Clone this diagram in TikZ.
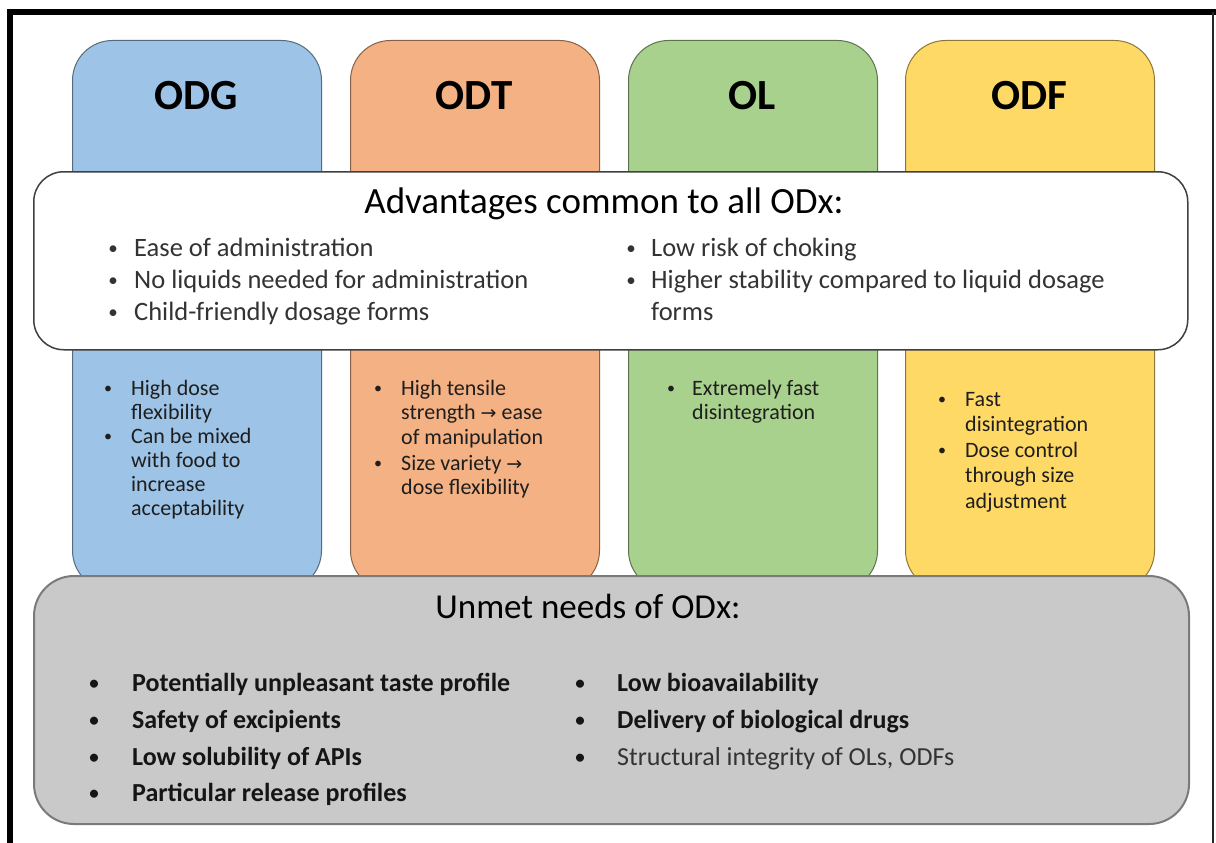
\documentclass[tikz,border=0pt]{standalone}
\usepackage{fontspec}
\setmainfont{Carlito}
\newfontfamily\arrowfont{DejaVu Sans}
\definecolor{odgblue}{HTML}{9DC3E6}
\definecolor{odtorange}{HTML}{F4B183}
\definecolor{olgreen}{HTML}{A9D18E}
\definecolor{odfyellow}{HTML}{FFD966}
\definecolor{needfill}{HTML}{C9C9C9}
\definecolor{needline}{HTML}{7A7A7A}
\definecolor{panelline}{HTML}{404040}
\definecolor{advtext}{HTML}{333333}
\definecolor{feattext}{HTML}{1E1E1E}
\definecolor{needtext}{HTML}{151515}
\definecolor{weaktext}{HTML}{333333}
\newcommand{\rarr}{{\arrowfont\fontsize{19}{22}\selectfont →}}
\begin{document}
\begin{tikzpicture}[x=1pt,y=-1pt,
  formbox/.style={draw=#1!55!black, fill=#1, line width=1pt, rounded corners=40pt,
    minimum width=249pt, minimum height=550pt, anchor=north west, inner sep=0pt},
  formname/.style={font=\fontsize{43}{46}\selectfont\bfseries, text=black, inner sep=0pt},
  panel/.style={rounded corners=#1, anchor=north west, minimum width=1154pt, inner sep=0pt},
  heading/.style={font=\fontsize{35}{40}\selectfont, text=black, anchor=base, inner sep=0pt},
  adv/.style={font=\fontsize{26.5}{30}\selectfont, text=advtext, anchor=base west, inner sep=0pt},
  advdot/.style={font=\fontsize{19}{22}\selectfont, text=advtext, anchor=base, inner sep=0pt, yshift=2pt},
  need/.style={font=\fontsize{26}{30}\selectfont\bfseries, text=needtext, anchor=base west, inner sep=0pt},
  needdot/.style={font=\fontsize{19}{22}\selectfont\bfseries, text=needtext, anchor=base, inner sep=0pt, yshift=2pt},
  feat/.style={font=\fontsize{22}{24}\selectfont, text=feattext, anchor=base west, inner sep=0pt},
  featdot/.style={font=\fontsize{16}{18}\selectfont, text=feattext, anchor=base, inner sep=0pt, yshift=2pt}
]
\useasboundingbox (0,0) rectangle (1216,843);
\fill[white] (0,0) rectangle (1216,843);

% outer frame
\draw[line width=6pt] (10,843) -- (10,12) -- (1216,12);
\draw[line width=1.5pt, black!85] (1213,12) -- (1213,843);

% the four dosage-form columns
\node[formbox=odgblue] (odg) at (72,40) {};
\node[formbox=odtorange] (odt) at (350,40) {};
\node[formbox=olgreen] (ol) at (628,40) {};
\node[formbox=odfyellow] (odf) at (905,40) {};

\node[formname] (odgT) at (196.5,96) {ODG};
\node[formname] (odtT) at (474,96) {ODT};
\node[formname] (olT) at (752.5,96) {OL};
\node[formname] (odfT) at (1029,96) {ODF};

% common advantages panel
\node[panel=30pt, draw=panelline, line width=1.5pt, fill=white, minimum height=178pt] (advbox) at (33,171) {};
\node[heading, font=\fontsize{37}{42}\selectfont] (advT) at (604,213) {Advantages common to all ODx:};
\node[advdot] (a1d) at (113,256) {•};
\node[adv] (a1) at (134,256) {Ease of administration};
\node[advdot] (a2d) at (113,288) {•};
\node[adv] (a2) at (134,288) {No liquids needed for administration};
\node[advdot] (a3d) at (113,320) {•};
\node[adv] (a3) at (134,320) {Child-friendly dosage forms};
\node[advdot] (a4d) at (631,256) {•};
\node[adv] (a4) at (651,256) {Low risk of choking};
\node[advdot] (a5d) at (631,288) {•};
\node[adv] (a5) at (651,288) {Higher stability compared to liquid dosage};
\node[adv] (a6) at (651,320) {forms};

% column-specific features
\node[featdot] (g1d) at (108,395) {•};
\node[feat] (g1) at (131,395) {High dose};
\node[feat] (g2) at (131,419) {flexibility};
\node[featdot] (g3d) at (108,443) {•};
\node[feat] (g3) at (131,443) {Can be mixed};
\node[feat] (g4) at (131,467) {with food to};
\node[feat] (g5) at (131,491) {increase};
\node[feat] (g6) at (131,515) {acceptability};

\node[featdot] (t1d) at (378,395) {•};
\node[feat] (t1) at (401,395) {High tensile};
\node[feat] (t2) at (401,419.5) {strength \rarr{} ease};
\node[feat] (t3) at (401,444) {of manipulation};
\node[featdot] (t4d) at (378,470) {•};
\node[feat] (t4) at (401,470) {Size variety \rarr};
\node[feat] (t5) at (401,494.5) {dose flexibility};

\node[featdot] (l1d) at (671,395) {•};
\node[feat] (l1) at (692,395) {Extremely fast};
\node[feat] (l2) at (692,419) {disintegration};

\node[featdot] (f1d) at (942,406) {•};
\node[feat] (f1) at (965,406) {Fast};
\node[feat] (f2) at (965,431.5) {disintegration};
\node[featdot] (f3d) at (942,457) {•};
\node[feat] (f3) at (965,457) {Dose control};
\node[feat] (f4) at (965,482.5) {through size};
\node[feat] (f5) at (965,508) {adjustment};

% unmet needs panel
\node[panel=40pt, draw=needline, line width=2pt, fill=needfill, minimum height=248pt, minimum width=1155pt] (needbox) at (33,575) {};
\node[heading] (needT) at (588,618) {Unmet needs of ODx:};
\node[needdot] (n1d) at (94,691) {•};
\node[need] (n1) at (132,691) {Potentially unpleasant taste profile};
\node[needdot] (n2d) at (94,728) {•};
\node[need] (n2) at (132,728) {Safety of excipients};
\node[needdot] (n3d) at (94,765) {•};
\node[need] (n3) at (132,765) {Low solubility of APIs};
\node[needdot] (n4d) at (94,801) {•};
\node[need] (n4) at (132,801) {Particular release profiles};
\node[needdot] (n5d) at (580,691) {•};
\node[need] (n5) at (617,691) {Low bioavailability};
\node[needdot] (n6d) at (580,728) {•};
\node[need] (n6) at (617,728) {Delivery of biological drugs};
\node[needdot] (n7d) at (580,765) {•};
\node[need, font=\fontsize{26}{30}\selectfont, text=weaktext] (n7) at (617,765) {Structural integrity of OLs, ODFs};
\end{tikzpicture}
\end{document}
